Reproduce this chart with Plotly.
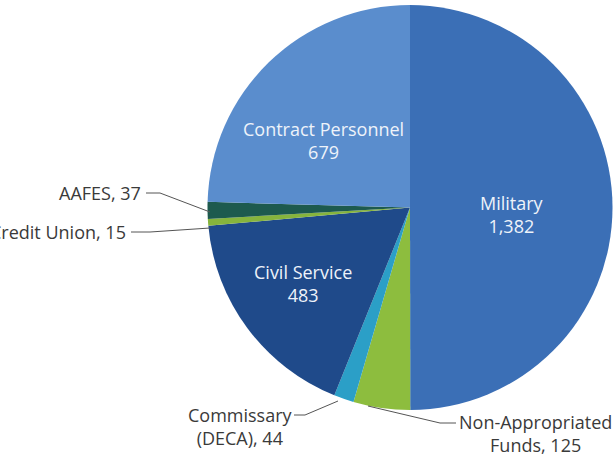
import plotly.graph_objects as go

# ── Data (clockwise from 12 o'clock) ──
LABELS = ["Military", "Non-Appropriated Funds", "Commissary (DECA)",
          "Civil Service", "Credit Union", "AAFES", "Contract Personnel"]
VALUES = [1382, 125, 44, 483, 15, 37, 679]
COLORS = ["#3b6fb6", "#8dbd3e", "#2b9fc7", "#1f4a8a", "#86b43d", "#1d5a4e", "#5a8dcd"]

W, H = 616, 457
INSIDE_FONT = "#eef3fa"
OUTSIDE_FONT = "#3a3a3a"
FONT_SIZE = 18


def px(x, y):
    """pixel position -> paper coordinates"""
    return x / W, 1 - y / H


fig = go.Figure(go.Pie(
    labels=LABELS,
    values=VALUES,
    sort=False,
    direction="clockwise",
    rotation=0,
    marker=dict(colors=COLORS, line=dict(width=0)),
    textinfo="none",
    hoverinfo="label+value",
    domain=dict(x=[207 / W, 613 / W], y=[1 - 410 / H, 1 - 5 / H]),
    showlegend=False,
))

annotations = []


def add_text(text, x, y, color, anchor="center"):
    ax, ay = px(x, y)
    annotations.append(dict(
        text=text, x=ax, y=ay, xref="paper", yref="paper",
        xanchor=anchor, yanchor="middle", showarrow=False,
        font=dict(size=FONT_SIZE, color=color, family="Open Sans"),
    ))


# inside labels
add_text(f"Contract Personnel<br>{VALUES[6]:,}", 323, 140, INSIDE_FONT)
add_text(f"Military<br>{VALUES[0]:,}", 512, 214, INSIDE_FONT)
add_text(f"Civil Service<br>{VALUES[3]:,}", 303, 283, INSIDE_FONT)

# outside labels (Credit Union runs off the left edge, as in the source)
add_text(f"AAFES, {VALUES[5]}", 143, 193, OUTSIDE_FONT, "right")
add_text(f"Credit Union, {VALUES[4]}", 128, 232, OUTSIDE_FONT, "right")
add_text(f"Commissary<br>(DECA), {VALUES[2]}", 240, 426, OUTSIDE_FONT)
add_text(f"Non-Appropriated<br>Funds, {VALUES[1]}", 535, 433, OUTSIDE_FONT)

# leader lines
leaders = [
    [(146, 193), (160, 193), (210, 212)],
    [(131, 232), (150, 232), (210, 228)],
    [(294, 415), (305, 415), (338, 401)],
    [(456, 423), (440, 423), (368, 406)],
]
shapes = []
for pts in leaders:
    path = ""
    for i, (x, y) in enumerate(pts):
        pxx, pyy = px(x, y)
        path += ("M" if i == 0 else "L") + f"{pxx},{pyy} "
    shapes.append(dict(type="path", path=path.strip(), xref="paper", yref="paper",
                       line=dict(color="#555555", width=1)))

fig.update_layout(
    width=W, height=H,
    margin=dict(l=0, r=0, t=0, b=0),
    paper_bgcolor="white",
    plot_bgcolor="white",
    annotations=annotations,
    shapes=shapes,
)

# drop the browser's default 8px body margin so the figure sits at (0, 0)
fig.write_html("out.html", config={"displayModeBar": False},
               post_script="document.body.style.margin = '0';")
